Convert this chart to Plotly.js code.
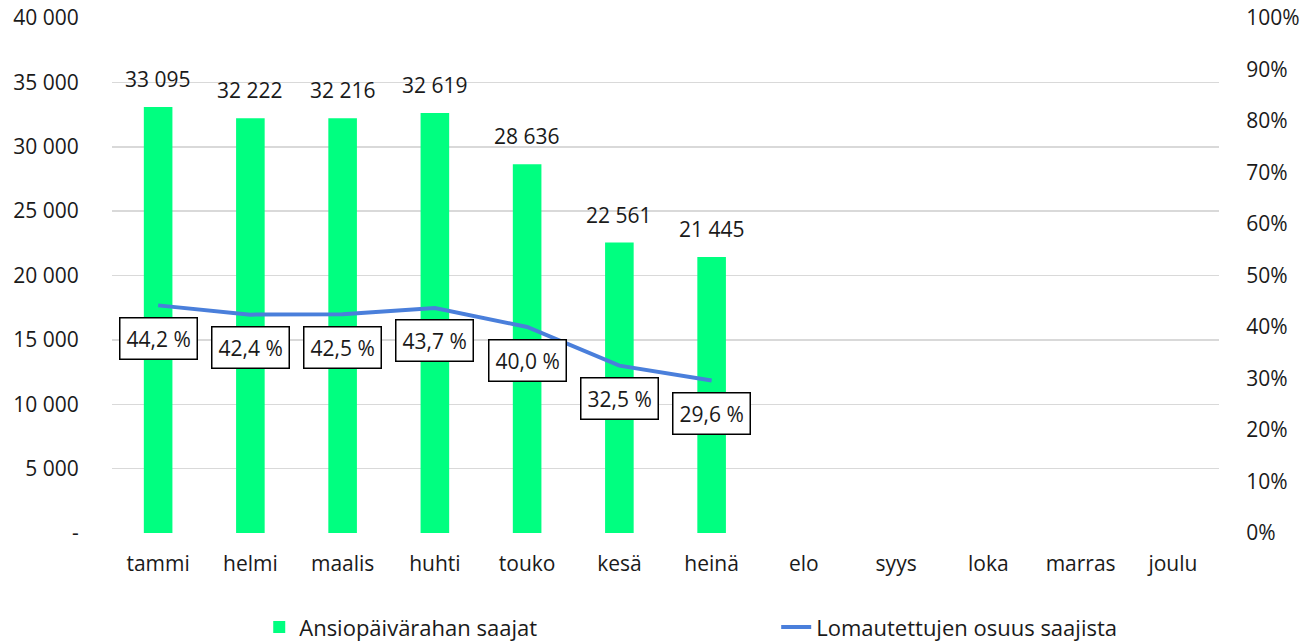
<!DOCTYPE html>
<html>
<head>
<meta charset="utf-8">
<script src="https://cdn.plot.ly/plotly-3.0.1.min.js"></script>
<style>html,body{margin:0;padding:0;background:#fff;}#chart{width:1316px;height:642px;}</style>
</head>
<body>
<div id="chart"></div>
<script>
const months = ["tammi","helmi","maalis","huhti","touko","kesä","heinä","elo","syys","loka","marras","joulu"];
const recipients = [33095, 32222, 32216, 32619, 28636, 22561, 21445, null, null, null, null, null];
const recipientLabels = ["33 095","32 222","32 216","32 619","28 636","22 561","21 445","","","","",""];
const shareMonths = ["tammi","helmi","maalis","huhti","touko","kesä","heinä"];
const share = [0.442, 0.424, 0.425, 0.437, 0.400, 0.325, 0.296];
const shareLabels = ["44,2 %","42,4 %","42,5 %","43,7 %","40,0 %","32,5 %","29,6 %"];
const leftTicks = [0,5000,10000,15000,20000,25000,30000,35000,40000];
const leftTickText = ["-","5 000","10 000","15 000","20 000","25 000","30 000","35 000","40 000"];
const rightTicks = [0,0.1,0.2,0.3,0.4,0.5,0.6,0.7,0.8,0.9,1.0];
const rightTickText = ["0%","10%","20%","30%","40%","50%","60%","70%","80%","90%","100%"];

const FONT = "'Open Sans', Lato, sans-serif";
const TXT = "#1a1a1a";
const FS = 21;

const traces = [
  {
    type: "bar", x: months, y: recipients, name: "Ansiopäivärahan saajat",
    marker: {color: "#00FF80"}, width: 0.31,
    hoverinfo: "skip", legend: "legend"
  },
  {
    type: "scatter", mode: "lines", x: shareMonths, y: share, yaxis: "y2",
    name: "Lomautettujen osuus saajista",
    line: {color: "#4A7FDB", width: 4}, hoverinfo: "skip", legend: "legend2"
  }
];

const barAnn = months.map((m, i) => ({
  x: m, y: recipients[i], xref: "x", yref: "y", text: recipientLabels[i],
  showarrow: false, yanchor: "bottom", yshift: 12, font: {family: FONT, size: FS, color: TXT}
})).filter(a => a.text !== "");

const lineAnn = shareMonths.map((m, i) => ({
  x: m, y: share[i], xref: "x", yref: "y2", text: shareLabels[i],
  showarrow: false, yshift: -33, bgcolor: "#ffffff", bordercolor: "#000000",
  borderwidth: 1.5, borderpad: 6, font: {family: FONT, size: FS, color: TXT}
}));

const legFont = {family: FONT, size: 22, color: TXT};
const layout = {
  width: 1316, height: 642,
  margin: {l: 112, r: 97, t: 18, b: 109, autoexpand: false},
  paper_bgcolor: "#ffffff", plot_bgcolor: "#ffffff",
  font: {family: FONT, size: FS, color: TXT},
  showlegend: true,
  legend: {orientation: "h", x: 0.133, xanchor: "left", yref: "container", y: 0.023, yanchor: "middle", font: legFont, bgcolor: "rgba(0,0,0,0)"},
  legend2: {orientation: "h", x: 0.600, xanchor: "left", yref: "container", y: 0.023, yanchor: "middle", font: legFont, bgcolor: "rgba(0,0,0,0)"},
  xaxis: {categoryorder: "array", categoryarray: months, showgrid: false, zeroline: false,
          showline: false, ticks: "outside", ticklen: 12, tickcolor: "rgba(0,0,0,0)",
          tickfont: {family: FONT, size: FS, color: TXT}, automargin: false},
  yaxis: {range: [0, 40000], tickvals: leftTicks, ticktext: leftTickText, showgrid: true,
          gridcolor: "#d9d9d9", gridwidth: 1.5, zeroline: false, showline: false,
          ticks: "outside", ticklen: 28, tickcolor: "rgba(0,0,0,0)", automargin: false,
          tickfont: {family: FONT, size: FS, color: TXT}},
  yaxis2: {range: [0, 1], overlaying: "y", side: "right", tickvals: rightTicks, ticktext: rightTickText,
           showgrid: false, zeroline: false, showline: false, automargin: false,
           ticks: "outside", ticklen: 22, tickcolor: "rgba(0,0,0,0)",
           tickfont: {family: FONT, size: FS, color: TXT}},
  annotations: barAnn.concat(lineAnn)
};

Plotly.newPlot("chart", traces, layout, {displayModeBar: false, staticPlot: true});
</script>
</body>
</html>
